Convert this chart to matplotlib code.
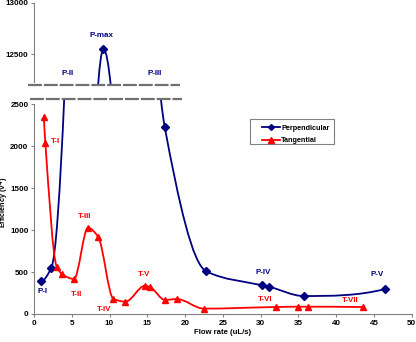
import numpy as np
import matplotlib
matplotlib.use("Agg")
import matplotlib.pyplot as plt
from matplotlib.path import Path
from matplotlib.patches import PathPatch, Rectangle
from matplotlib.lines import Line2D

plt.rcParams['font.family'] = ['Liberation Sans', 'DejaVu Sans']
plt.rcParams['font.weight'] = 'bold'
plt.rcParams['lines.scale_dashes'] = False

# data
perp_flow = [0.9, 2.3, 9.2, 17.3, 22.8, 30.2, 31.1, 35.7, 46.5]
perp_eff = [389, 551, 12550, 2230, 508, 342, 325, 214, 298]
tang_flow = [1.3, 1.5, 3.0, 3.75, 5.3, 7.15, 8.5, 10.5, 12.1, 14.7, 15.4,
             17.35, 18.9, 22.5, 32.0, 35.0, 36.3, 43.6]
tang_eff = [2342, 2040, 563, 472, 417, 1027, 917, 182, 147, 337, 318,
            167, 178, 64, 83, 87, 87, 83]

low_ticks = [0, 500, 1000, 1500, 2000, 2500]
high_ticks = [12500, 13000]
x_ticks = list(range(0, 51, 5))

# peak labels (text, x, y)
low_labels_p = [("P-I", 1.1, 262), ("P-IV", 30.4, 496), ("P-V", 45.4, 472)]
low_labels_t = [("T-I", 2.9, 2050), ("T-II", 5.6, 230), ("T-III", 6.75, 1160),
                ("T-IV", 9.3, 56), ("T-V", 14.6, 472), ("T-VI", 30.6, 170),
                ("T-VII", 41.9, 163)]
high_labels_p = [("P-II", 4.46, 12316), ("P-max", 8.97, 12678), ("P-III", 16.0, 12316)]

BLUE = "#000080"
RED = "#ff0000"
GREY = "#808080"


def smooth_path(x, y):
    # monotone cubic (bezier) through the points, like a smoothed excel line
    x = np.asarray(x, float)
    y = np.asarray(y, float)
    h = np.diff(x)
    d = np.diff(y) / h
    n = len(x)
    m = np.zeros(n)
    for k in range(1, n - 1):
        if d[k - 1] * d[k] > 0:
            w1 = 2 * h[k] + h[k - 1]
            w2 = h[k] + 2 * h[k - 1]
            m[k] = (w1 + w2) / (w1 / d[k - 1] + w2 / d[k])

    def edge(h0, h1, d0, d1):
        e = ((2 * h0 + h1) * d0 - h0 * d1) / (h0 + h1)
        if np.sign(e) != np.sign(d0):
            return 0.0
        if np.sign(d0) != np.sign(d1) and abs(e) > 3 * abs(d0):
            return 3 * d0
        return e

    m[0] = edge(h[0], h[1], d[0], d[1])
    m[-1] = edge(h[-1], h[-2], d[-1], d[-2])
    verts = [(x[0], y[0])]
    codes = [Path.MOVETO]
    for i in range(n - 1):
        verts += [(x[i] + h[i] / 3, y[i] + m[i] * h[i] / 3),
                  (x[i + 1] - h[i] / 3, y[i + 1] - m[i + 1] * h[i] / 3),
                  (x[i + 1], y[i + 1])]
        codes += [Path.CURVE4] * 3
    return Path(verts, codes)


W, H = 416, 342
fig = plt.figure(figsize=(W / 100, H / 100), dpi=100)
ax = fig.add_axes([34 / W, 1 - 314 / H, 377.7 / W, 215 / H])
ax_hi = fig.add_axes([34 / W, 1 - 85.2 / H, 377.7 / W, 82.5 / H])

for a in (ax, ax_hi):
    a.add_patch(PathPatch(smooth_path(perp_flow, perp_eff), fill=False,
                          edgecolor=BLUE, lw=1.3, zorder=3))
    a.add_patch(PathPatch(smooth_path(tang_flow, tang_eff), fill=False,
                          edgecolor=RED, lw=1.3, zorder=3))
    a.plot(perp_flow, perp_eff, ls="none", marker="D", ms=4, color=BLUE, zorder=4)
    a.plot(tang_flow, tang_eff, ls="none", marker="^", ms=5, color=RED, zorder=4)
    a.set_xlim(0, 50)
    a.spines["top"].set_visible(False)
    a.spines["right"].set_visible(False)
    a.spines["left"].set_color(GREY)
    a.spines["bottom"].set_color(GREY)
    a.tick_params(direction="out", length=2.5, width=0.8, color=GREY,
                  labelsize=5.8, pad=1.5)

ax.set_ylim(0, 2560)
ax.spines["left"].set_bounds(0, 2500)
ax.set_yticks(low_ticks)
ax.set_xticks(x_ticks)
ax.set_xlabel("Flow rate (uL/s)", fontsize=5.6, fontweight="bold", labelpad=2)
ax.set_ylabel("Efficiency (V$^{4}$)", fontsize=5.2, fontweight="bold")
ax.yaxis.set_label_coords(-0.061, 0.52)

ax_hi.set_ylim(12200, 13000)
ax_hi.spines["left"].set_bounds(12230, 13000)
ax_hi.spines["bottom"].set_visible(False)
ax_hi.set_yticks(high_ticks)
ax_hi.set_xticks([])
ax_hi.patch.set_alpha(0)

for txt, x, y in low_labels_p:
    ax.text(x, y, txt, color=BLUE, fontsize=5.8, ha="center", va="center")
for txt, x, y in low_labels_t:
    ax.text(x, y, txt, color=RED, fontsize=5.8, ha="center", va="center")
for txt, x, y in high_labels_p:
    ax_hi.text(x, y, txt, color=BLUE, fontsize=5.8, ha="center", va="center")

# axis break marks
fig.add_artist(Line2D([28 / W, 180 / W], [1 - 84.7 / H] * 2, transform=fig.transFigure,
                      color="#707070", lw=1.6, dashes=(10, 1.4), zorder=5))
fig.add_artist(Line2D([30 / W, 182 / W], [1 - 98.5 / H] * 2, transform=fig.transFigure,
                      color="#707070", lw=1.6, dashes=(10, 1.4), zorder=5))

# legend: box drawn separately so it sits where the reference has it
fig.add_artist(Rectangle((250 / W, 1 - 144 / H), 84 / W, 25 / H, transform=fig.transFigure,
                         facecolor="white", edgecolor=GREY, lw=0.8, zorder=5))
handles = [Line2D([], [], color=BLUE, lw=1.3, marker="D", ms=3, label="Perpendicular"),
           Line2D([], [], color=RED, lw=1.3, marker="^", ms=4, label="Tangential")]
leg = fig.legend(handles=handles, loc="upper left", bbox_to_anchor=(256 / W, 1 - 119 / H),
                 fontsize=5.2, frameon=False, handlelength=2.5, borderpad=0.3,
                 labelspacing=0.75, handletextpad=0.2)
leg.set_zorder(6)

fig.savefig("out.png", dpi=100)
